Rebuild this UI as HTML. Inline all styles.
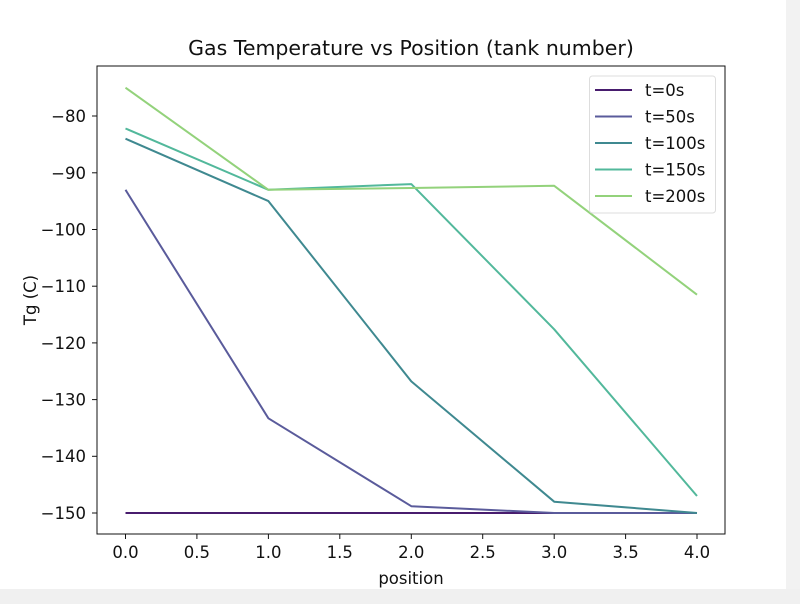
<!DOCTYPE html>
<html><head><meta charset="utf-8"><style>
html,body{margin:0;padding:0;background:#fff;}
svg{display:block;font-family:"DejaVu Sans","Liberation Sans",sans-serif;}
</style></head><body>
<svg width="800" height="604" viewBox="0 0 800 604" xmlns="http://www.w3.org/2000/svg">
<rect x="0" y="0" width="800" height="604" fill="#fff"/>
<rect x="786" y="0" width="14" height="604" fill="#f2f2f2"/>
<rect x="0" y="589" width="800" height="15" fill="#f0f0f0"/>
<text x="411" y="55" font-size="20.5" text-anchor="middle" fill="#111">Gas Temperature vs Position (tank number)</text>
<g stroke="#111" stroke-width="1">
<line x1="125.5" y1="534" x2="125.5" y2="539"/><line x1="196.9" y1="534" x2="196.9" y2="539"/>
<line x1="268.4" y1="534" x2="268.4" y2="539"/><line x1="339.8" y1="534" x2="339.8" y2="539"/>
<line x1="411.3" y1="534" x2="411.3" y2="539"/><line x1="482.7" y1="534" x2="482.7" y2="539"/>
<line x1="554.2" y1="534" x2="554.2" y2="539"/><line x1="625.6" y1="534" x2="625.6" y2="539"/>
<line x1="697" y1="534" x2="697" y2="539"/>
<line x1="92" y1="513" x2="97" y2="513"/><line x1="92" y1="456.3" x2="97" y2="456.3"/>
<line x1="92" y1="399.6" x2="97" y2="399.6"/><line x1="92" y1="342.9" x2="97" y2="342.9"/>
<line x1="92" y1="286.2" x2="97" y2="286.2"/><line x1="92" y1="229.5" x2="97" y2="229.5"/>
<line x1="92" y1="172.8" x2="97" y2="172.8"/><line x1="92" y1="116" x2="97" y2="116"/>
</g>
<g font-size="16.5" fill="#111" text-anchor="middle">
<text x="125.5" y="558">0.0</text><text x="196.9" y="558">0.5</text><text x="268.4" y="558">1.0</text>
<text x="339.8" y="558">1.5</text><text x="411.3" y="558">2.0</text><text x="482.7" y="558">2.5</text>
<text x="554.2" y="558">3.0</text><text x="625.6" y="558">3.5</text><text x="697" y="558">4.0</text>
<text x="411" y="584">position</text>
</g>
<g font-size="16.5" fill="#111" text-anchor="end">
<text x="86" y="519">−150</text><text x="86" y="462">−140</text><text x="86" y="405.5">−130</text>
<text x="86" y="349">−120</text><text x="86" y="292">−110</text><text x="86" y="235.5">−100</text>
<text x="86" y="179">−90</text><text x="86" y="122">−80</text>
</g>
<text transform="translate(36,300) rotate(-90)" font-size="16.5" text-anchor="middle" fill="#111">Tg (C)</text>
<g fill="none" stroke-width="2" stroke-linejoin="round">
<polyline stroke="#481c6e" points="125.5,513 268.4,513 411.3,513 554.2,513 697,513"/>
<polyline stroke="#5a5b9b" points="125.5,189.8 268.4,418.3 411.3,506.2 554.2,513 697,513"/>
<polyline stroke="#3f8990" points="125.5,138.7 268.4,201.1 411.3,381.4 554.2,501.7 697,513"/>
<polyline stroke="#52b89b" points="125.5,128.5 268.4,189.8 411.3,184.1 554.2,329.3 697,496"/>
<polyline stroke="#93d27b" points="125.5,87.7 268.4,189.8 411.3,188 554.2,185.8 697,294.7"/>
</g>
<rect x="97" y="66" width="628" height="468" fill="none" stroke="#111" stroke-width="1"/>
<rect x="589.5" y="76" width="126" height="137" rx="3" fill="#fff" fill-opacity="0.8" stroke="#ddd"/>
<g stroke-width="2">
<line x1="595" y1="90" x2="632" y2="90" stroke="#481c6e"/>
<line x1="595" y1="116.5" x2="632" y2="116.5" stroke="#5a5b9b"/>
<line x1="595" y1="143" x2="632" y2="143" stroke="#3f8990"/>
<line x1="595" y1="169.5" x2="632" y2="169.5" stroke="#52b89b"/>
<line x1="595" y1="196" x2="632" y2="196" stroke="#93d27b"/>
</g>
<g font-size="16.5" fill="#111">
<text x="645" y="96">t=0s</text><text x="645" y="122.5">t=50s</text><text x="645" y="149">t=100s</text>
<text x="645" y="175.5">t=150s</text><text x="645" y="202">t=200s</text>
</g>
</svg>
</body></html>
